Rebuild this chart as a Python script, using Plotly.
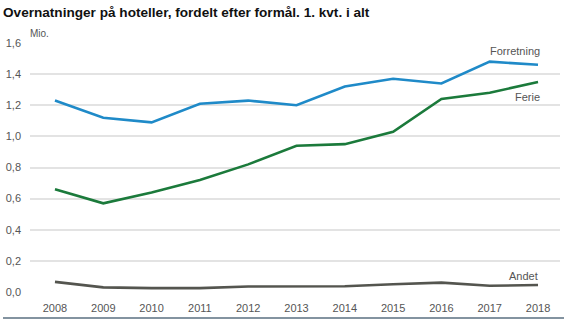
import plotly.graph_objects as go

years = list(range(2008, 2019))
forretning = [1.23, 1.12, 1.09, 1.21, 1.23, 1.20, 1.32, 1.37, 1.34, 1.48, 1.46]
ferie = [0.66, 0.57, 0.64, 0.72, 0.82, 0.94, 0.95, 1.03, 1.24, 1.28, 1.35]
andet = [0.065, 0.03, 0.025, 0.025, 0.035, 0.035, 0.037, 0.05, 0.06, 0.04, 0.045]

y_ticks = [0, 0.2, 0.4, 0.6, 0.8, 1.0, 1.2, 1.4, 1.6]
y_tick_labels = ["0,0", "0,2", "0,4", "0,6", "0,8", "1,0", "1,2", "1,4", "1,6"]

series = [
    ("Forretning", forretning, "#1f8ac8"),
    ("Ferie", ferie, "#1b7a3b"),
    ("Andet", andet, "#54554f"),
]

W, H = 564, 328
ML, MR, MT, MB = 30, 4, 43, 36
plot_w = W - ML - MR
plot_h = H - MT - MB

fig = go.Figure()
for name, vals, color in series:
    fig.add_trace(go.Scatter(
        x=years, y=vals, mode="lines", name=name,
        line=dict(color=color, width=2.6),
        hoverinfo="skip",
    ))

label_font = dict(family="Liberation Sans Narrow, Arial Narrow, Liberation Sans, Arial", size=11, color="#555555")

# Series labels near the right end of each line
fig.add_annotation(x=2018, y=forretning[-1], text="Forretning", showarrow=False,
                   xanchor="right", yanchor="bottom", yshift=6, xshift=4, font=label_font)
fig.add_annotation(x=2018, y=ferie[-1], text="Ferie", showarrow=False,
                   xanchor="right", yanchor="top", yshift=-7, xshift=4, font=label_font)
fig.add_annotation(x=2018, y=andet[-1], text="Andet", showarrow=False,
                   xanchor="right", yanchor="bottom", yshift=1, xshift=2, font=label_font)

# Unit label above the y axis
fig.add_annotation(xref="paper", yref="paper", x=(32 - ML) / plot_w, y=1.0,
                   text="Mio.", showarrow=False, xanchor="left", yanchor="bottom",
                   yshift=2, xshift=-4, font=dict(family=label_font["family"], size=10, color="#555555"))

# Bottom rule across the full width
rule_y = -(318 - (H - MB)) / plot_h
fig.add_shape(type="line", xref="paper", yref="paper",
              x0=(3 - ML) / plot_w, x1=(W - ML) / plot_w,
              y0=rule_y, y1=rule_y,
              line=dict(color="#5a6f80", width=1.5))

fig.update_layout(
    width=W, height=H,
    margin=dict(l=ML, r=MR, t=MT, b=MB),
    paper_bgcolor="white", plot_bgcolor="white",
    showlegend=False,
    title=dict(text="<b>Overnatninger på hoteller, fordelt efter formål. 1. kvt. i alt</b>",
               x=3 / W, xanchor="left", y=1 - 12 / H, yanchor="middle",
               font=dict(family="Liberation Sans, Arial", size=13.6, color="#111111")),
    xaxis=dict(range=[2007.483, 2018.455], tickvals=years, ticktext=[str(y) for y in years],
               showgrid=False, zeroline=False, showline=False,
               ticks="", tickfont=label_font, ticklabelstandoff=8),
    yaxis=dict(range=[0, 1.6], tickvals=y_ticks, ticktext=y_tick_labels,
               showgrid=True, gridcolor="#e3e3e3", gridwidth=1.5,
               zeroline=False, showline=False, ticks="",
               tickfont=label_font, ticklabelstandoff=8),
)

fig.write_html("out.html")
